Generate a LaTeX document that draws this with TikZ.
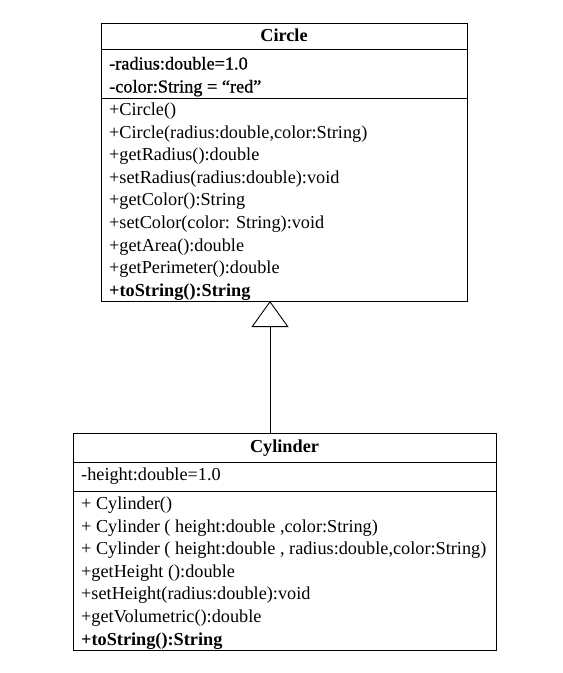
\documentclass[tikz,border=0pt]{standalone}
\usepackage{fontspec}
\setmainfont{Liberation Serif}
\newfontfamily\attrfont[FakeBold=0.8]{Liberation Serif}
\usetikzlibrary{arrows.meta}
\begin{document}
\begin{tikzpicture}[x=1pt,y=-1pt,
  compart/.style={draw, line width=0.9pt, anchor=north west, inner sep=0pt, outer sep=0pt},
  member/.style={anchor=base west, inner sep=0pt, font=\fontsize{18.25}{21}\selectfont},
  title/.style={anchor=base, inner sep=0pt, font=\fontsize{18.25}{21}\selectfont\bfseries},
  generalization/.style={line width=0.9pt, -{Triangle[open, length=26pt, width=37pt, line width=0.9pt]}}]
\useasboundingbox (0,0) rectangle (563,673);

% Circle class
\node[compart, minimum width=366pt, minimum height=26pt] (circTitle) at (101,23) {};
\node[compart, minimum width=366pt, minimum height=49pt] (circAttr) at (101,49) {};
\node[compart, minimum width=366pt, minimum height=203pt] (circOps) at (101,98) {};
\node[title] (circName) at (284,41.5) {Circle};
\node[member] (ca1) at (109,69.5) {\attrfont -radius:double=1.0};
\node[member] (ca2) at (109,92.5) {\attrfont -color:String = “red”};
\node[member] (co1) at (109,115.5) {+Circle()};
\node[member] (co2) at (109,138.1) {+Circle(radius:double,color:String)};
\node[member] (co3) at (109,160.7) {+getRadius():double};
\node[member] (co4) at (109,183.3) {+setRadius(radius:double):void};
\node[member] (co5) at (109,205.9) {+getColor():String};
\node[member] (co6) at (109,228.5) {+setColor(color: String):void};
\node[member] (co7) at (109,251.1) {+getArea():double};
\node[member] (co8) at (109,273.7) {+getPerimeter():double};
\node[member] (co9) at (109,296.3) {\bfseries +toString():String};

% Cylinder class
\node[compart, minimum width=423pt, minimum height=29pt] (cylTitle) at (73,433) {};
\node[compart, minimum width=423pt, minimum height=29pt] (cylAttr) at (73,462) {};
\node[compart, minimum width=423pt, minimum height=159pt] (cylOps) at (73,491) {};
\node[title] (cylName) at (284.5,452.5) {Cylinder};
\node[member] (ya1) at (81,480.5) {-height:double=1.0};
\node[member] (yo1) at (81,509.5) {+ Cylinder()};
\node[member] (yo2) at (81,532.1) {+ Cylinder ( height:double ,color:String)};
\node[member] (yo3) at (81,554.7) {+ Cylinder ( height:double , radius:double,color:String)};
\node[member] (yo4) at (81,577.3) {+getHeight ():double};
\node[member] (yo5) at (81,599.9) {+setHeight(radius:double):void};
\node[member] (yo6) at (81,622.5) {+getVolumetric():double};
\node[member] (yo7) at (81,645.1) {\bfseries +toString():String};

% Inheritance: Cylinder extends Circle
\coordinate (inh) at (270,433);
\draw[generalization] (inh) -- (inh |- circOps.south);
\end{tikzpicture}
\end{document}
